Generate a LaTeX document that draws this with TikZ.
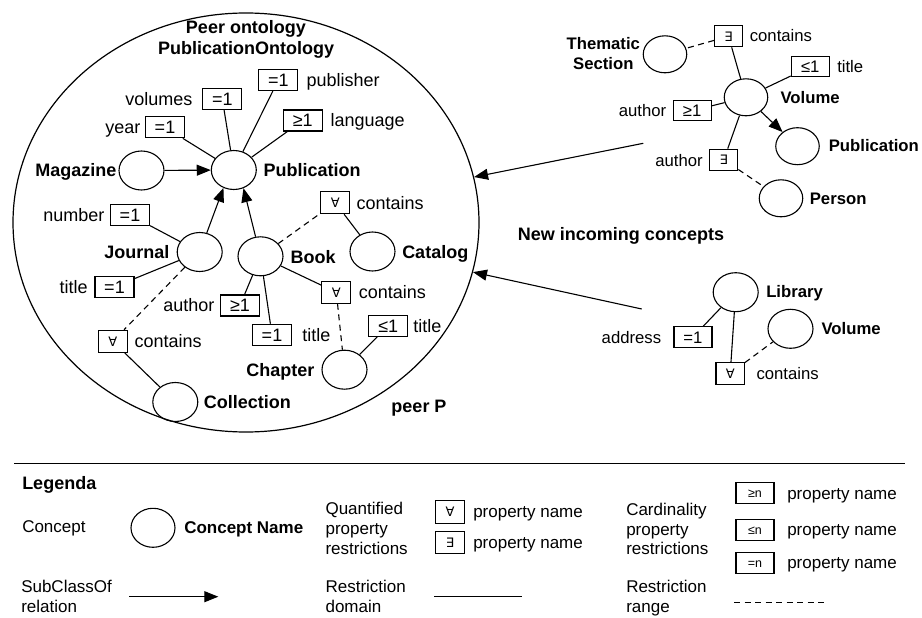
\documentclass[tikz,border=0pt]{standalone}
\usepackage{fontspec}
\setmainfont{Liberation Sans}
\newfontfamily\qsymfont{DejaVu Sans}
\usetikzlibrary{shapes.geometric,arrows.meta}
\tikzset{
  lbl/.style={inner sep=0pt, font=\fontsize{18}{21}\selectfont, text height=12.9pt, text depth=0pt},
  blbl/.style={lbl, font=\fontsize{18}{21}\selectfont\bfseries},
  slbl/.style={inner sep=0pt, font=\fontsize{16.7}{20}\selectfont, text height=12pt, text depth=0pt},
  sblbl/.style={slbl, font=\fontsize{16.7}{20}\selectfont\bfseries},
  glbl/.style={inner sep=0pt, font=\fontsize{17}{20}\selectfont, text height=12.2pt, text depth=0pt},
  gblbl/.style={glbl, font=\fontsize{17}{20}\selectfont\bfseries},
  concept/.style={draw, ellipse, minimum width=45pt, minimum height=39pt, inner sep=0pt},
  sconcept/.style={concept, minimum width=43.5pt, minimum height=37pt},
  card/.style={draw, rectangle, minimum width=39pt, minimum height=21pt, inner sep=0pt,
    font=\fontsize{18}{21}\selectfont, text height=12.9pt, text depth=0pt},
  scard/.style={card, minimum width=38pt, minimum height=20.5pt, font=\fontsize{16.7}{20}\selectfont, text height=12pt},
  lcard/.style={card, minimum width=38pt, minimum height=21pt, font=\fontsize{12.5}{15}\selectfont, text height=9pt},
  quant/.style={draw, rectangle, minimum width=29pt, minimum height=22pt, inner sep=0pt,
    font=\qsymfont\fontsize{13}{15}\selectfont, text height=9.5pt, text depth=0pt},
  squant/.style={quant, minimum width=28pt, minimum height=21pt},
  subarrow/.style={-{Triangle[length=14pt,width=11pt]}},
  rline/.style={dash pattern=on 6pt off 4.5pt}
}
\begin{document}
\begin{tikzpicture}[x=1pt,y=-1pt,line width=1.1pt]
\useasboundingbox (0,0) rectangle (922,618);

% ---------- peer ontology ----------
\node[draw, ellipse, minimum width=466pt, minimum height=419pt, inner sep=0pt, line width=1.2pt] (peer) at (246,222.5) {};
\node[blbl] (ttl1) at (246,26.7) {Peer ontology};
\node[blbl] (ttl2) at (246,48.3) {PublicationOntology};

\node[concept] (pub) at (233.8,170) {};
\node[blbl,anchor=west] (pubL) at (263,170) {Publication};
\node[concept] (mag) at (141.5,170.5) {};
\node[blbl,anchor=east] (magL) at (117,170.5) {Magazine};
\node[concept] (jour) at (199.7,252) {};
\node[blbl,anchor=east] (jourL) at (170,252) {Journal};
\node[concept] (book) at (260.5,256.3) {};
\node[blbl,anchor=west] (bookL) at (290,257) {Book};
\node[concept] (cat) at (372.5,251.5) {};
\node[blbl,anchor=west] (catL) at (401.7,251.7) {Catalog};
\node[concept] (chap) at (344.5,369.7) {};
\node[blbl,anchor=east] (chapL) at (315,370) {Chapter};
\node[concept] (coll) at (175.3,402) {};
\node[blbl,anchor=west] (collL) at (203.3,402) {Collection};
\node[blbl] (peerP) at (419,406) {peer P};

\node[card] (byear) at (165,127.3) {=1};
\node[lbl,anchor=east] (lyear) at (141,127.3) {year};
\node[card] (bvol) at (222.3,99) {=1};
\node[lbl,anchor=east] (lvol) at (193,99) {volumes};
\node[card] (bpubl) at (278.3,80) {=1};
\node[lbl,anchor=west] (lpubl) at (306,80) {publisher};
\node[card] (blang) at (302.7,120.5) {≥1};
\node[lbl,anchor=west] (llang) at (330,120.5) {language};
\node[card] (bnum) at (130,215) {=1};
\node[lbl,anchor=east] (lnum) at (105,215) {number};
\node[card] (bjt) at (114.5,286.8) {=1};
\node[lbl,anchor=east] (ljt) at (88.3,286.8) {title};
\node[card] (bba) at (240,305.5) {≥1};
\node[lbl,anchor=east] (lba) at (215,305.5) {author};
\node[card] (bbt) at (272,334.8) {=1};
\node[lbl,anchor=west] (lbt) at (301.7,334.8) {title};
\node[card] (bct) at (388.2,325.8) {≤1};
\node[lbl,anchor=west] (lct) at (412.7,325.8) {title};
\node[quant] (qcat) at (335.3,202.7) {∀};
\node[lbl,anchor=west] (lqcat) at (356,202.7) {contains};
\node[quant] (qbook) at (336.3,292.3) {∀};
\node[lbl,anchor=west] (lqbook) at (358.3,292.3) {contains};
\node[quant] (qcoll) at (112.8,341.3) {∀};
\node[lbl,anchor=west] (lqcoll) at (134,341.3) {contains};

\draw (byear) -- (pub);
\draw (bvol) -- (pub);
\draw (bpubl) -- (pub);
\draw (blang) -- (pub);
\draw[subarrow] (mag) -- (pub);
\draw[subarrow] (jour) -- (pub.240);
\draw[subarrow] (book) -- (pub.298);
\draw (bnum) -- (jour);
\draw (bjt) -- (jour);
\draw[rline] (jour) -- (qcoll);
\draw (qcoll) -- (coll);
\draw[rline] (book) -- (qcat);
\draw (qcat) -- (cat);
\draw (book) -- (qbook);
\draw[rline] (qbook) -- (chap);
\draw (bct) -- (chap);
\draw (book) -- (bba);
\draw (book) -- (bbt);

% ---------- incoming concepts 1 ----------
\node[sconcept] (them) at (665,54.3) {};
\node[sblbl] (themL1) at (603.3,43.3) {Thematic};
\node[sblbl] (themL2) at (603.3,63.3) {Section};
\node[squant] (qth) at (728.5,36.3) {∃};
\node[slbl,anchor=west] (lqth) at (749.3,36) {contains};
\node[sconcept] (vol1) at (746,97.3) {};
\node[sblbl,anchor=west] (vol1L) at (780,97.7) {Volume};
\node[scard] (bvt) at (810.3,66.7) {≤1};
\node[slbl,anchor=west] (lvt) at (836.7,66.7) {title};
\node[scard] (bva) at (692.2,110.7) {≥1};
\node[slbl,anchor=east] (lva) at (666.7,110.7) {author};
\node[sconcept] (pub2) at (797.5,146.2) {};
\node[sblbl,anchor=west] (pub2L) at (828.3,145.7) {Publication};
\node[squant] (qva) at (723.8,159.7) {∃};
\node[slbl,anchor=east] (lqva) at (703.3,160) {author};
\node[sconcept] (person) at (781,198.3) {};
\node[sblbl,anchor=west] (personL) at (809.3,198.3) {Person};

\draw[rline] (qth) -- (them);
\draw (qth) -- (vol1);
\draw (bvt) -- (vol1);
\draw (bva) -- (vol1);
\draw[subarrow] (vol1) -- (pub2);
\draw (vol1) -- (qva);
\draw[rline] (qva) -- (person);
\coordinate (inA) at (643.3,143.3);
\draw[subarrow] (inA) -- (peer);

\node[blbl] (newc) at (621,234) {New incoming concepts};

% ---------- incoming concepts 2 ----------
\node[concept] (lib) at (735.7,292.2) {};
\node[sblbl,anchor=west] (libL) at (765.7,291.7) {Library};
\node[scard] (baddr) at (693,337) {=1};
\node[slbl,anchor=east] (laddr) at (661.7,337) {address};
\node[concept] (vol2) at (790.5,328.8) {};
\node[sblbl,anchor=west] (vol2L) at (821,328.3) {Volume};
\node[squant, minimum width=28.5pt, minimum height=21.5pt] (qlib) at (730.2,373.5) {∀};
\node[slbl,anchor=west] (lqlib) at (756,373.3) {contains};
\draw (lib) -- (baddr);
\draw (lib) -- (qlib);
\draw[rline] (qlib) -- (vol2);
\coordinate (inB) at (641.7,309);
\draw[subarrow] (inB) -- (peer);

% ---------- legend ----------
\coordinate (hrA) at (14,463.3);
\coordinate (hrB) at (905,463.3);
\draw[line width=1.3pt] (hrA) -- (hrB);
\node[blbl,anchor=west] (legT) at (21.7,483.3) {Legenda};
\node[glbl,anchor=west] (legC) at (21.7,526.5) {Concept};
\node[concept, minimum width=44pt] (legE) at (153,527.8) {};
\node[gblbl,anchor=west] (legCN) at (183.7,527) {Concept Name};

\node[glbl,anchor=west] (legQ1) at (325,508.3) {Quantified};
\node[glbl,anchor=west] (legQ2) at (325,528.3) {property};
\node[glbl,anchor=west] (legQ3) at (325,548.3) {restrictions};
\node[quant, minimum width=28.6pt, minimum height=22.6pt] (legA) at (450,512) {∀};
\node[glbl,anchor=west] (legAL) at (472.7,511.7) {property name};
\node[quant, minimum width=28.6pt, minimum height=21.6pt] (legX) at (450,542.5) {∃};
\node[glbl,anchor=west] (legXL) at (472.7,542.7) {property name};

\node[glbl,anchor=west] (legK1) at (625.7,509.3) {Cardinality};
\node[glbl,anchor=west] (legK2) at (625.7,529.3) {property};
\node[glbl,anchor=west] (legK3) at (625.7,548.8) {restrictions};
\node[lcard] (legGe) at (755,493) {≥n};
\node[glbl,anchor=west] (legGeL) at (786.7,493) {property name};
\node[lcard] (legLe) at (755,530) {≤n};
\node[glbl,anchor=west] (legLeL) at (786.7,529) {property name};
\node[lcard] (legEq) at (755,563) {=n};
\node[glbl,anchor=west] (legEqL) at (786.7,562.7) {property name};

\node[glbl,anchor=west] (legS1) at (20.7,586.7) {SubClassOf};
\node[glbl,anchor=west] (legS2) at (20.7,606.7) {relation};
\coordinate (subA) at (129.3,596.7);
\coordinate (subB) at (218.3,596.7);
\draw[subarrow] (subA) -- (subB);

\node[glbl,anchor=west] (legD1) at (325,586.7) {Restriction};
\node[glbl,anchor=west] (legD2) at (325,606.7) {domain};
\coordinate (domA) at (434.3,596.7);
\coordinate (domB) at (521.7,596.7);
\draw (domA) -- (domB);

\node[glbl,anchor=west] (legR1) at (625.7,586.7) {Restriction};
\node[glbl,anchor=west] (legR2) at (625.7,606.7) {range};
\coordinate (rngA) at (734,602.3);
\coordinate (rngB) at (825,602.3);
\draw[rline] (rngA) -- (rngB);
\end{tikzpicture}
\end{document}
